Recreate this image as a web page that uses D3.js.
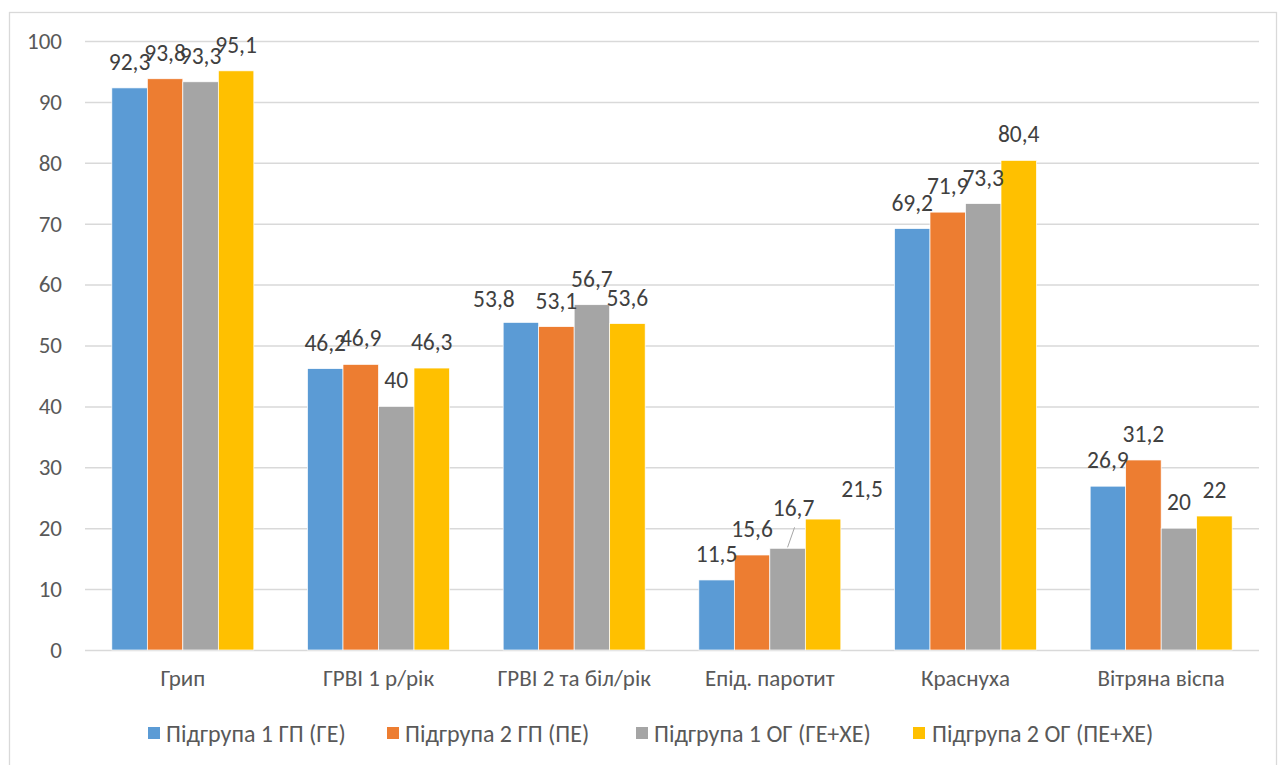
<!DOCTYPE html>
<html>
<head>
<meta charset="utf-8">
<script src="https://cdn.jsdelivr.net/npm/d3@7"></script>
<style>
  html, body { margin: 0; padding: 0; background: #fff; }
  svg { display: block; }
  text { font-family: Carlito, Lato, "Liberation Sans", sans-serif; }
</style>
</head>
<body>
<svg id="chart" width="1278" height="765"></svg>
<script>
// Categories (vaccination types) and the four subgroups
const categories = ["Грип", "ГРВІ 1 р/рік", "ГРВІ 2 та біл/рік", "Епід. паротит", "Краснуха", "Вітряна віспа"];
const seriesNames = ["Підгрупа 1 ГП (ГЕ)", "Підгрупа 2 ГП (ПЕ)", "Підгрупа 1 ОГ (ГЕ+ХЕ)", "Підгрупа 2 ОГ (ПЕ+ХЕ)"];
const seriesColors = ["#5b9bd5", "#ed7d31", "#a5a5a5", "#ffc000"];

const group1GP = [92.3, 46.2, 53.8, 11.5, 69.2, 26.9];
const group2GP = [93.8, 46.9, 53.1, 15.6, 71.9, 31.2];
const group1OG = [93.3, 40.0, 56.7, 16.7, 73.3, 20.0];
const group2OG = [95.1, 46.3, 53.6, 21.5, 80.4, 22.0];
const seriesValues = [group1GP, group2GP, group1OG, group2OG];

const yTicks = [0, 10, 20, 30, 40, 50, 60, 70, 80, 90, 100];

// Hand-placed data labels (series index, category index, dx, dy, leader line)
const labelMoves = [
  { s: 0, c: 2, dx: -27, dy: 3, leader: false },
  { s: 2, c: 3, dx: 6, dy: -14, leader: true },
  { s: 3, c: 3, dx: 39, dy: -4, leader: false }
];

const svg = d3.select("#chart");
const plot = { left: 85, right: 1259, top: 41, bottom: 650 };
const groupWidth = 142;

// Outer chart frame
svg.append("rect")
  .attr("x", 9.5).attr("y", 12.5)
  .attr("width", 1267).attr("height", 770)
  .attr("fill", "#fff").attr("stroke", "#d9d9d9").attr("stroke-width", 1.3);

const x0 = d3.scaleBand().domain(categories).range([plot.left, plot.right]).padding(0);
const x1 = d3.scaleBand().domain(d3.range(seriesNames.length)).range([0, groupWidth]).padding(0);
const y = d3.scaleLinear().domain([0, 100]).range([plot.bottom, plot.top]);

// Gridlines and y tick labels
const yAxis = d3.axisLeft(y).tickValues(yTicks).tickSize(-(plot.right - plot.left)).tickPadding(23).tickFormat(d3.format("d"));
const yg = svg.append("g").attr("transform", `translate(${plot.left},0)`).call(yAxis);
yg.select(".domain").remove();
yg.selectAll(".tick line").attr("stroke", "#d9d9d9").attr("stroke-width", 1.5);
yg.selectAll(".tick text").attr("fill", "#595959").style("font-size", "23px");

// Category labels
const xAxis = d3.axisBottom(x0).tickSize(0).tickPadding(0);
const xg = svg.append("g").attr("transform", `translate(0,${plot.bottom})`).call(xAxis);
xg.select(".domain").remove();
xg.selectAll(".tick text")
  .attr("y", 36).attr("dy", null)
  .attr("fill", "#595959").style("font-size", "23px");

const groupOffset = (x0.bandwidth() - groupWidth) / 2;

// Bars
const groups = svg.append("g").selectAll("g")
  .data(seriesValues)
  .join("g")
  .attr("fill", (d, i) => seriesColors[i]);

groups.each(function (vals, s) {
  d3.select(this).selectAll("rect")
    .data(vals)
    .join("rect")
    .attr("x", (v, c) => x0(categories[c]) + groupOffset + x1(s))
    .attr("y", v => y(v))
    .attr("width", x1.bandwidth())
    .attr("height", v => y(0) - y(v))
    .attr("stroke", "#fff")
    .attr("stroke-width", 0.7);
});

// Data labels
const fmt = v => String(v).replace(".", ",");
const labels = svg.append("g");
seriesValues.forEach((vals, s) => {
  vals.forEach((v, c) => {
    const move = labelMoves.find(m => m.s === s && m.c === c) || { dx: 0, dy: 0, leader: false };
    const cx = x0(categories[c]) + groupOffset + x1(s) + x1.bandwidth() / 2;
    const by = y(v) - 18;
    if (move.leader) {
      labels.append("line")
        .attr("x1", cx).attr("y1", y(v) - 1)
        .attr("x2", cx + move.dx + 1).attr("y2", by + move.dy + 11)
        .attr("stroke", "#a6a6a6").attr("stroke-width", 1);
    }
    labels.append("text")
      .attr("x", cx + move.dx)
      .attr("y", by + move.dy)
      .attr("text-anchor", "middle")
      .attr("fill", "#404040")
      .style("font-size", "23.5px")
      .text(fmt(v));
  });
});

// Legend
const legendItems = [
  { sx: 148, tx: 166 },
  { sx: 387, tx: 405 },
  { sx: 636, tx: 654 },
  { sx: 913, tx: 932 }
];
const legend = svg.append("g");
seriesNames.forEach((name, i) => {
  legend.append("rect")
    .attr("x", legendItems[i].sx).attr("y", 727)
    .attr("width", 12).attr("height", 12)
    .attr("fill", seriesColors[i]);
  legend.append("text")
    .attr("x", legendItems[i].tx).attr("y", 742)
    .attr("fill", "#595959")
    .style("font-size", "24px")
    .text(name);
});
</script>
</body>
</html>
